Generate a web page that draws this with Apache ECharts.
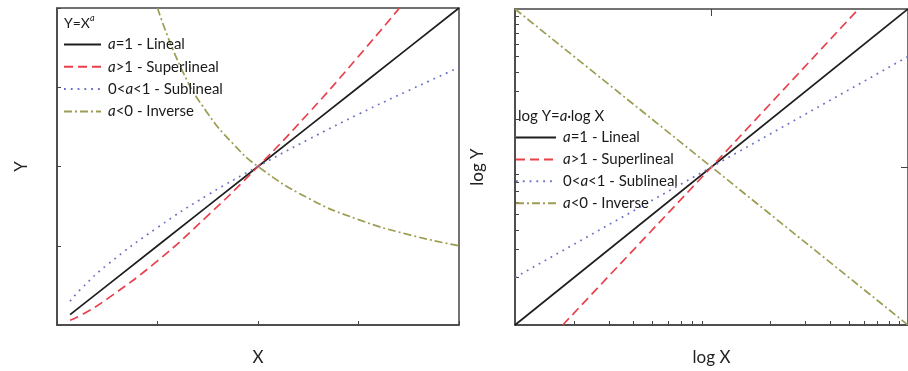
<!DOCTYPE html>
<html>
<head>
<meta charset="utf-8">
<script src="https://cdn.jsdelivr.net/npm/echarts@6/dist/echarts.min.js"></script>
<style>
html, body { margin: 0; padding: 0; background: #fff; }
#main { width: 908px; height: 371px; }
</style>
</head>
<body>
<div id="main"></div>
<script>
// left panel, Y = X^a on linear axes
var linX      = [0.13, 0.25, 0.5, 1, 1.5, 2, 2.5, 3, 3.5, 4];
var linLineal = [0.13, 0.25, 0.5, 1, 1.5, 2, 2.5, 3, 3.5, 4];
var linSuper  = [0.06, 0.13, 0.33, 0.81, 1.38, 2, 2.67, 3.39, 4.14, null];
var linSub    = [0.3, 0.47, 0.76, 1.23, 1.64, 2, 2.34, 2.66, 2.96, 3.25];
var invX      = [1, 1.25, 1.5, 1.75, 2, 2.5, 3, 3.5, 4];
var invY      = [4, 3.2, 2.67, 2.29, 2, 1.6, 1.33, 1.14, 1];

// right panel, log Y = a log X (end points)
var logLinealX = [1, 100],      logLinealY = [1, 100];
var logSuperX  = [1.75, 10, 56], logSuperY  = [1, 10, 100];
var logSubX    = [1, 10, 100],   logSubY    = [2, 10, 50];
var logInvX    = [1, 10, 100],   logInvY    = [100, 10, 1];

var logTicks = [2, 3, 4, 5, 6, 7, 8, 9, 20, 30, 40, 50, 60, 70, 80, 90];
var logMajor = [10];

var names = ['a=1 - Lineal', 'a>1 - Superlineal', '0<a<1 - Sublineal', 'a<0 - Inverse'];

var styles = [
	{ color: '#1e1e1e', type: 'solid' },
	{ color: '#e8414c', type: [9, 5] },
	{ color: '#6b70c4', type: [1.8, 5] },
	{ color: '#9c9c52', type: [8, 3, 2, 3] }
];

var font = 'Lato';
var axisColor = '#444';

function pairs(xs, ys) {
	var out = [];
	for (var i = 0; i < xs.length; i++) {
		if (ys[i] != null) out.push([xs[i], ys[i]]);
	}
	return out;
}

function mk(k, data, idx, smooth) {
	return {
		name: names[k],
		type: 'line',
		xAxisIndex: idx,
		yAxisIndex: idx,
		data: data,
		symbol: 'none',
		smooth: smooth,
		clip: true,
		lineStyle: { color: styles[k].color, type: styles[k].type, width: 1.7 },
		itemStyle: { color: styles[k].color }
	};
}

// log axis for the right panel; extra copies only carry the longer decade tick
function logAxis(isX, name, gap, ticks, len, main) {
	var ax = {
		gridIndex: 1, type: 'log', logBase: 10, min: 1, max: 100,
		axisLine: { show: main, lineStyle: { color: axisColor, width: 1.5 } },
		axisTick: { show: true, inside: true, length: len, customValues: ticks, lineStyle: { color: axisColor } },
		axisLabel: { show: false },
		splitLine: { show: false },
		minorTick: { show: false }
	};
	if (main) {
		ax.name = name;
		ax.nameLocation = 'middle';
		ax.nameGap = gap;
		ax.nameTextStyle = { fontFamily: font, fontSize: 17, color: '#222' };
	}
	return ax;
}

var myChart = echarts.init(document.getElementById('main'));

var legendText = {
	fontFamily: font,
	fontSize: 15,
	lineHeight: 12,
	color: '#1a1a1a',
	padding: [0, 0, 0, 2],
	rich: { i: { fontFamily: font, fontSize: 15, lineHeight: 12, fontStyle: 'italic', color: '#1a1a1a' } }
};

function legendFmt(name) {
	return name.replace('a', '{i|a}');
}

var option = {
	animation: false,
	title: [{
		text: 'Y=X{s|a}',
		left: 64, top: 16, padding: 0,
		textStyle: {
			fontFamily: font, fontSize: 14, lineHeight: 14, fontWeight: 'normal', color: '#1a1a1a',
			rich: { s: { fontFamily: font, fontSize: 9, fontStyle: 'italic', color: '#1a1a1a', verticalAlign: 'bottom', padding: [0, 0, 7, 0] } }
		}
	}, {
		text: 'log Y={i|a}·log X',
		left: 518, top: 108, padding: 0,
		textStyle: {
			fontFamily: font, fontSize: 15, lineHeight: 16, fontWeight: 'normal', color: '#1a1a1a',
			rich: { i: { fontFamily: font, fontSize: 15, lineHeight: 16, fontStyle: 'italic', color: '#1a1a1a' } }
		}
	}],
	legend: [{
		data: names,
		orient: 'vertical',
		left: 63, top: 37, padding: 0,
		itemWidth: 37, itemHeight: 14, itemGap: 7.3,
		itemStyle: { opacity: 0 },
		formatter: legendFmt,
		textStyle: legendText
	}, {
		data: names,
		orient: 'vertical',
		left: 515, top: 130, padding: 0,
		itemWidth: 40, itemHeight: 14, itemGap: 6.9,
		itemStyle: { opacity: 0 },
		formatter: legendFmt,
		textStyle: legendText
	}],
	grid: [
		{ left: 57, top: 8, width: 402, height: 325, show: true, borderColor: axisColor, borderWidth: 1.5 },
		{ left: 515, top: 9, width: 404, height: 325, show: true, borderColor: axisColor, borderWidth: 1.5 }
	],
	xAxis: [{
		gridIndex: 0, type: 'value', min: 0, max: 4, interval: 1,
		name: 'X', nameLocation: 'middle', nameGap: 24,
		nameTextStyle: { fontFamily: font, fontSize: 17, color: '#222' },
		axisLine: { show: true, lineStyle: { color: axisColor, width: 1.5 } },
		axisTick: { show: true, inside: true, length: 4, lineStyle: { color: axisColor } },
		axisLabel: { show: false },
		splitLine: { show: false }
	},
		logAxis(true, 'log X', 24, logTicks, 4, true),
		logAxis(true, '', 0, logMajor, 7, false)
	],
	yAxis: [{
		gridIndex: 0, type: 'value', min: 0, max: 4, interval: 1,
		name: 'Y', nameLocation: 'middle', nameGap: 27,
		nameTextStyle: { fontFamily: font, fontSize: 17, color: '#222' },
		axisLine: { show: true, lineStyle: { color: axisColor, width: 1.5 } },
		axisTick: { show: true, inside: true, length: 4, lineStyle: { color: axisColor } },
		axisLabel: { show: false },
		splitLine: { show: false }
	},
		logAxis(false, 'log Y', 29, logTicks, 4, true),
		logAxis(false, '', 0, logMajor, 7, false)
	],
	series: [
		mk(0, pairs(linX, linLineal), 0, false),
		mk(1, pairs(linX, linSuper), 0, true),
		mk(2, pairs(linX, linSub), 0, true),
		mk(3, pairs(invX, invY), 0, true),
		mk(0, pairs(logLinealX, logLinealY), 1, false),
		mk(1, pairs(logSuperX, logSuperY), 1, false),
		mk(2, pairs(logSubX, logSubY), 1, false),
		mk(3, pairs(logInvX, logInvY), 1, false)
	]
};

myChart.setOption(option);
</script>
</body>
</html>
